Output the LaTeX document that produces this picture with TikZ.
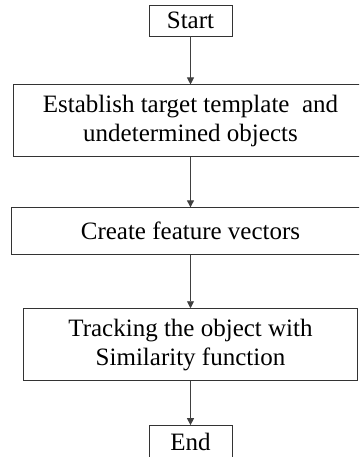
\documentclass[tikz,border=0pt]{standalone}
\usepackage{fontspec}
\setmainfont{Liberation Serif}
\usetikzlibrary{positioning,arrows.meta}

\begin{document}
\begin{tikzpicture}[
            x=1pt, y=1pt,
            font=\fontsize{25}{29}\selectfont,
            stepbox/.style={rectangle,draw=black!80,line width=0.9pt,
                inner sep=0pt,align=center},
            flow/.style={draw=black!75,line width=0.9pt,
                -{Triangle[length=7pt,width=7pt]}}]
            \clip (0,0) rectangle (359,-457);
            \node[stepbox,minimum width=83,minimum height=31] (start) at (190.5,-20.5) {Start};
            \node[stepbox,below=48 of start,minimum width=355,minimum height=72] (establish)
                {Establish target template\ \ and\\undetermined objects};
            \node[stepbox,below=50 of establish,minimum width=358,minimum height=47] (create)
                {Create feature vectors};
            \node[stepbox,below=53 of create,minimum width=334,minimum height=72] (tracking)
                {Tracking the object with\\Similarity function};
            \node[stepbox,below=44 of tracking,minimum width=83,minimum height=32] (end) {End};

            \path (start)     edge[flow] (establish)
            (establish) edge[flow] (create)
            (create)    edge[flow] (tracking)
            (tracking)  edge[flow] (end);
            \end{tikzpicture}
\end{document}
